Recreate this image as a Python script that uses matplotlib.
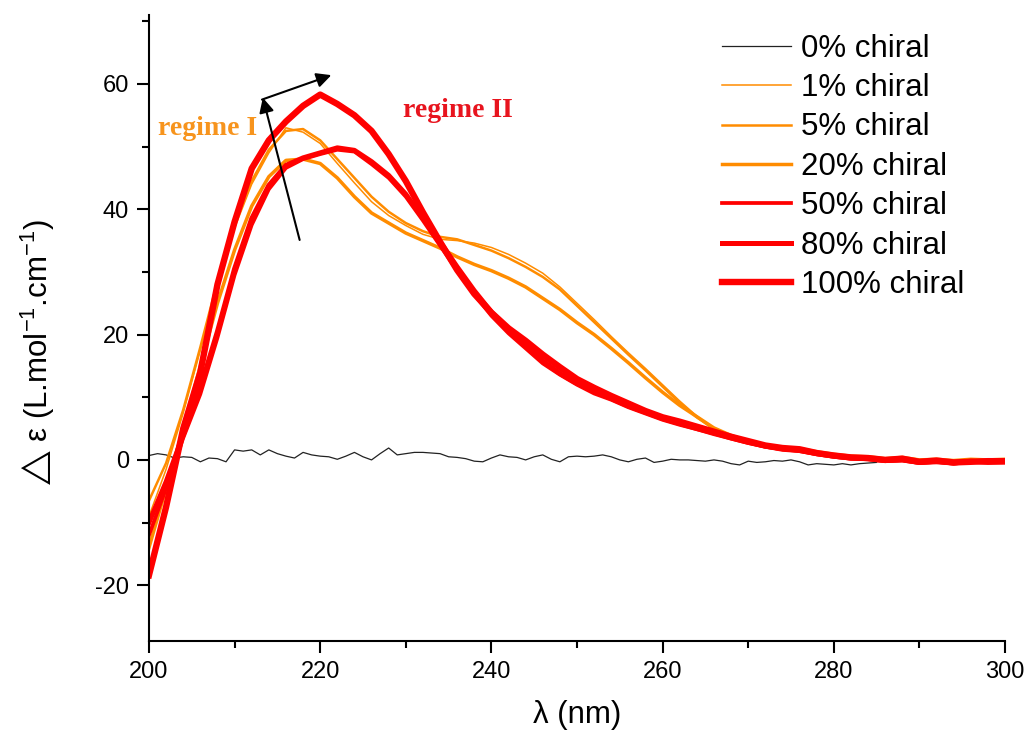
import numpy as np
import matplotlib
matplotlib.use("Agg")
import matplotlib.pyplot as plt
from matplotlib.ticker import MultipleLocator

# wavelength grids (nm)
wl = np.arange(200, 301, 2)
wl_blank = np.arange(200, 286, 1)

# delta epsilon (L.mol-1.cm-1)
c0 = [0.7, 1.0, 0.8, 0.3, 0.5, 0.4, -0.3, 0.3, 0.2, -0.3,
      1.6, 1.4, 1.6, 0.8, 1.6, 1.0, 0.6, 0.3, 1.2, 0.8,
      0.6, 0.5, 0.1, 0.6, 1.2, 0.5, 0.0, 1.0, 1.9, 0.8,
      1.0, 1.2, 1.2, 1.1, 1.0, 0.5, 0.4, 0.2, -0.2, -0.3,
      0.3, 0.8, 0.5, 0.4, 0.0, 0.5, 0.8, 0.1, -0.3, 0.5,
      0.6, 0.5, 0.6, 0.8, 0.5, 0.0, -0.3, 0.1, 0.3, -0.4,
      -0.2, 0.1, 0.0, 0.0, -0.1, -0.2, 0.0, -0.2, -0.6, -0.8,
      -0.2, -0.4, -0.3, -0.1, -0.2, 0.0, -0.3, -0.8, -0.6, -0.7,
      -0.8, -0.6, -0.8, -0.6, -0.5, -0.4]

c1 = [-9.0, -1.5, 7.5, 17.5, 28.0, 37.0, 44.0, 49.0, 53.0, 52.3,
      50.5, 47.3, 44.2, 41.2, 39.0, 37.4, 36.0, 35.2, 35.0, 34.6,
      33.9, 32.8, 31.4, 29.8, 27.6, 25.0, 22.4, 19.7, 17.1, 14.6,
      12.0, 9.4, 7.0, 5.0, 3.8, 3.0, 2.4, 2.0, 1.8, 1.3,
      0.9, 0.6, 0.5, 0.2, 0.4, 0.0, 0.1, -0.1, 0.1, 0.0, 0.1]

c5 = [-6.5, -0.5, 8.0, 18.0, 28.5, 37.5, 44.5, 49.5, 52.5, 52.8,
      51.0, 48.0, 45.0, 42.0, 39.6, 37.8, 36.5, 35.6, 35.2, 34.3,
      33.4, 32.2, 30.8, 29.2, 27.2, 24.6, 22.0, 19.4, 16.8, 14.3,
      11.7, 9.1, 6.8, 4.9, 3.7, 2.9, 2.3, 1.9, 1.7, 1.2,
      0.8, 0.5, 0.4, 0.1, 0.3, -0.1, 0.0, -0.2, 0.0, -0.1, 0.0]

c20 = [-14.0, -4.5, 5.0, 15.0, 25.0, 33.5, 40.5, 45.2, 47.8, 48.0,
       47.3, 45.0, 42.0, 39.4, 37.8, 36.2, 35.0, 33.8, 32.4, 31.2,
       30.2, 29.0, 27.6, 25.8, 24.0, 21.9, 20.0, 17.8, 15.5, 13.1,
       10.8, 8.7, 6.9, 5.1, 3.9, 3.0, 2.4, 2.0, 1.8, 1.3,
       0.9, 0.6, 0.5, 0.2, 0.4, 0.0, 0.1, -0.1, 0.1, 0.0, 0.1]

c50 = [-12.0, -4.5, 3.5, 10.5, 19.5, 29.5, 37.5, 43.2, 46.6, 48.0,
       48.8, 49.5, 49.2, 47.2, 45.0, 42.0, 38.2, 34.2, 30.2, 26.4,
       23.0, 20.2, 17.8, 15.4, 13.6, 12.0, 10.6, 9.6, 8.4, 7.4,
       6.4, 5.6, 4.9, 4.1, 3.4, 2.7, 2.1, 1.6, 1.4, 0.9,
       0.5, 0.2, 0.1, -0.2, -0.1, -0.5, -0.3, -0.6, -0.3, -0.4, -0.4]

c80 = [-10.0, -3.5, 4.0, 11.5, 20.5, 30.5, 38.5, 43.8, 47.0, 48.2,
       49.0, 49.8, 49.4, 47.6, 45.4, 42.4, 38.6, 34.8, 30.8, 27.0,
       23.6, 20.8, 18.2, 15.8, 13.8, 12.2, 11.0, 9.8, 8.6, 7.6,
       6.6, 5.8, 5.0, 4.3, 3.5, 2.8, 2.2, 1.8, 1.5, 1.0,
       0.6, 0.3, 0.2, -0.1, 0.0, -0.4, -0.3, -0.5, -0.2, -0.4, -0.3]

c100 = [-18.4, -7.5, 5.0, 14.0, 28.0, 38.0, 46.5, 51.0, 54.0, 56.5,
        58.3, 56.8, 55.0, 52.5, 48.8, 44.5, 39.5, 34.8, 30.3, 26.5,
        23.5, 21.0, 19.0, 16.8, 14.8, 12.9, 11.5, 10.2, 9.0, 7.8,
        6.8, 6.1, 5.3, 4.5, 3.7, 3.0, 2.3, 1.9, 1.7, 1.1,
        0.7, 0.4, 0.3, 0.0, 0.2, -0.3, -0.1, -0.4, -0.3, -0.2, -0.2]

labels = ["0% chiral", "1% chiral", "5% chiral", "20% chiral",
          "50% chiral", "80% chiral", "100% chiral"]

ORANGE = "#FF8C00"
RED = "#FF0000"

plt.rcParams["font.family"] = ["Liberation Sans", "DejaVu Sans"]
plt.rcParams["mathtext.default"] = "regular"
plt.rcParams["axes.unicode_minus"] = False


def main() -> None:
    fig = plt.figure(figsize=(10.31, 7.42), dpi=100)
    ax = fig.add_axes([0.1445, 0.1361, 0.8303, 0.8437])

    ax.plot(wl_blank, c0, color="#222222", lw=0.9, label=labels[0])
    ax.plot(wl, c1, color=ORANGE, lw=1.1, label=labels[1])
    ax.plot(wl, c5, color=ORANGE, lw=1.8, label=labels[2])
    ax.plot(wl, c20, color=ORANGE, lw=2.5, label=labels[3])
    ax.plot(wl, c50, color=RED, lw=2.7, label=labels[4])
    ax.plot(wl, c80, color=RED, lw=3.6, label=labels[5])
    ax.plot(wl, c100, color=RED, lw=4.6, label=labels[6])

    ax.set_xlim(200, 300)
    ax.set_ylim(-28.9, 71)

    ax.xaxis.set_major_locator(MultipleLocator(20))
    ax.xaxis.set_minor_locator(MultipleLocator(10))
    ax.yaxis.set_major_locator(MultipleLocator(20))
    ax.yaxis.set_minor_locator(MultipleLocator(10))
    ax.tick_params(which="major", direction="out", length=8.5, width=1.5,
                   labelsize=17, pad=6)
    ax.tick_params(which="minor", direction="out", length=5, width=1.5)

    for side in ["top", "right"]:
        ax.spines[side].set_visible(False)
    for side in ["left", "bottom"]:
        ax.spines[side].set_linewidth(1.5)

    ax.set_xlabel("λ (nm)", fontsize=22.5, labelpad=12)
    ax.set_ylabel(r"$\bigtriangleup$ ε (L.mol$^{-1}$.cm$^{-1}$)", fontsize=22.5)
    ax.yaxis.set_label_coords(-0.107, 0.46)

    # regime arrows
    ax.annotate("", xy=(213.3, 57.8), xytext=(217.6, 35.1),
                arrowprops=dict(arrowstyle="-|>", color="black", lw=1.5,
                                mutation_scale=22, shrinkA=0, shrinkB=0))
    ax.annotate("", xy=(221.3, 61.4), xytext=(213.2, 57.5),
                arrowprops=dict(arrowstyle="-|>", color="black", lw=1.5,
                                mutation_scale=22, shrinkA=0, shrinkB=0))
    ax.text(201.0, 52.9, "regime I", color="#F7941D", fontsize=20,
            fontweight="bold", family="Liberation Serif", ha="left", va="center")
    ax.text(229.7, 55.8, "regime II", color="#E8141E", fontsize=20,
            fontweight="bold", family="Liberation Serif", ha="left", va="center")

    ax.legend(loc="upper left", bbox_to_anchor=(0.644, 1.005), frameon=False,
              fontsize=22.5, handlelength=2.2, handletextpad=0.32,
              labelspacing=0.3, borderpad=0.2)

    fig.savefig("out.png", dpi=100)
    plt.close(fig)


if __name__ == "__main__":
    main()
